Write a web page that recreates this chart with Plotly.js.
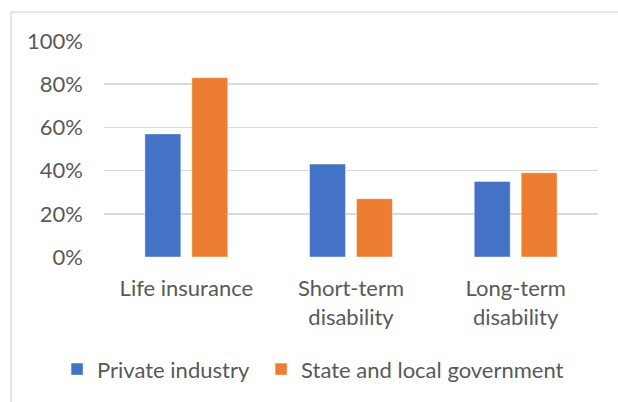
<!DOCTYPE html>
<html><head><meta charset="utf-8">
<script src="https://cdn.plot.ly/plotly-3.0.1.min.js"></script>
<style>html,body{margin:0;padding:0;background:#fff}#chart{width:618px;height:402px}</style>
</head><body><div id="chart"></div>
<script>
const categories = ['Life insurance', 'Short-term<br>disability', 'Long-term<br>disability'];
const seriesNames = ['Private industry', 'State and local government'];
const privateIndustry = [0.57, 0.43, 0.35];
const stateLocalGov = [0.83, 0.27, 0.39];
const yTickVals = [0, 0.2, 0.4, 0.6, 0.8, 1.0];
const yTickText = ['0%', '20%', '40%', '60%', '80%', '100%'];

const FONT = 'Lato, "Open Sans", sans-serif';
const TXT = '#595959';
const FS = 22;

const traces = [
  {type: 'bar', name: seriesNames[0], x: categories, y: privateIndustry, legend: 'legend',
   marker: {color: '#4472C4', line: {color: 'rgba(255,255,255,0.45)', width: 1}}, hoverinfo: 'none'},
  {type: 'bar', name: seriesNames[1], x: categories, y: stateLocalGov, legend: 'legend2',
   marker: {color: '#ED7D31', line: {color: 'rgba(255,255,255,0.45)', width: 1}}, hoverinfo: 'none'}
];

const legendBase = {orientation: 'h', xanchor: 'left', y: -0.52, yanchor: 'middle',
  font: {family: FONT, size: FS, color: TXT}, bgcolor: 'rgba(0,0,0,0)'};

const layout = {
  width: 618, height: 402,
  margin: {l: 104, r: 20, t: 41, b: 145, pad: 0},
  paper_bgcolor: '#fff', plot_bgcolor: '#fff',
  font: {family: FONT, size: FS, color: TXT},
  barmode: 'group', bargap: 0.43, bargroupgap: 0.234,
  showlegend: true,
  legend: Object.assign({}, legendBase, {x: -0.095}),
  legend2: Object.assign({}, legendBase, {x: 0.318}),
  xaxis: {type: 'category', showgrid: false, zeroline: false, showline: false, ticks: '',
          tickfont: {family: FONT, size: FS, color: TXT}, ticklabelstandoff: 16, fixedrange: true},
  yaxis: {range: [0, 1], tickvals: yTickVals, ticktext: yTickText, showgrid: true,
          gridcolor: '#D9D9D9', gridwidth: 1.5, zeroline: false, showline: false, ticks: '',
          tickfont: {family: FONT, size: FS, color: TXT}, ticklabelstandoff: 20, fixedrange: true},
  shapes: [{type: 'rect', xref: 'paper', yref: 'paper', x0: -0.1883, x1: 1.06, y0: -0.78, y1: 1.134,
            line: {color: '#D9D9D9', width: 1.3}, fillcolor: 'rgba(0,0,0,0)', layer: 'below'}]
};

Plotly.newPlot('chart', traces, layout, {staticPlot: true, displayModeBar: false});
</script></body></html>
